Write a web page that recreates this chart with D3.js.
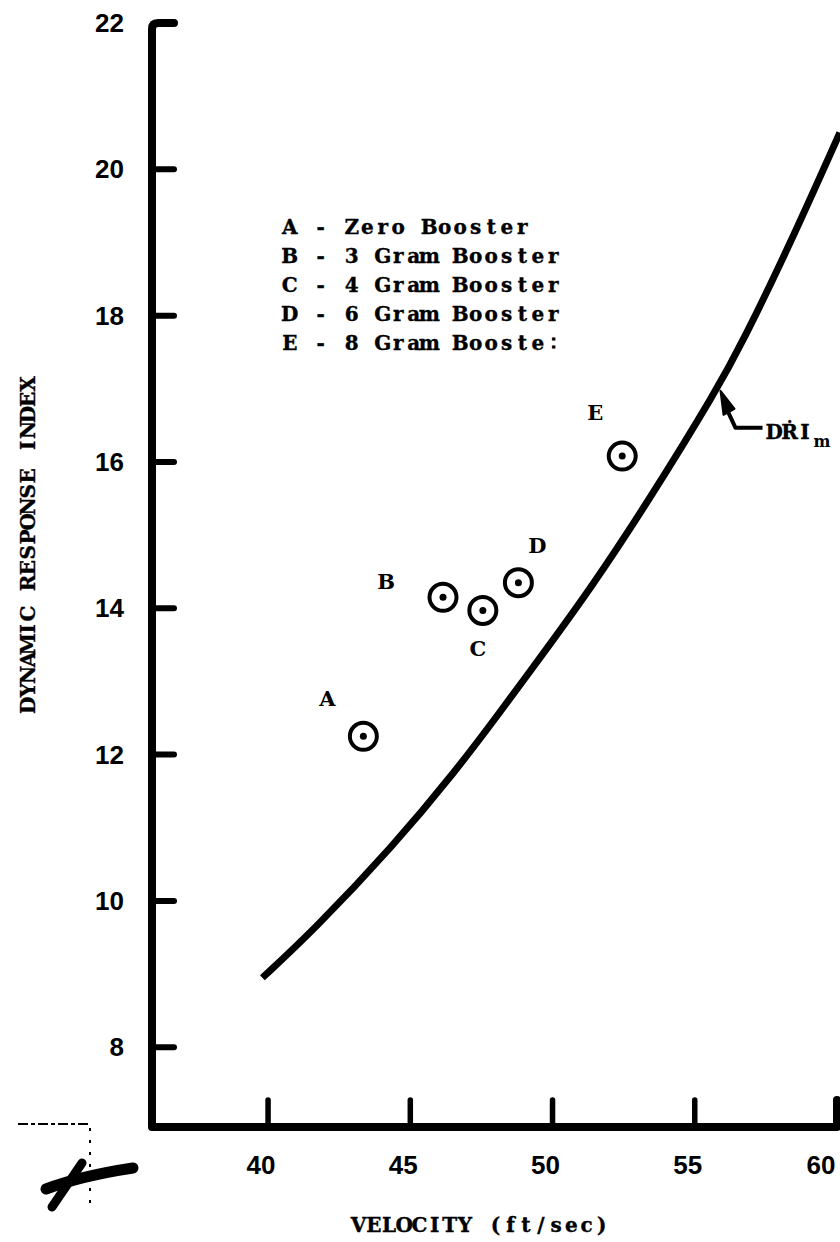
<!DOCTYPE html>
<html>
<head>
<meta charset="utf-8">
<script src="https://cdn.jsdelivr.net/npm/d3@7"></script>
<style>
  html, body { margin: 0; padding: 0; background: #fff; }
  svg { display: block; }
  .tw { font-family: "DejaVu Serif", "Liberation Serif", serif; font-weight: bold; }
  .tick { font-family: "Liberation Sans", Arial, sans-serif; font-weight: bold; }
</style>
</head>
<body>
<svg id="chart" width="840" height="1242"></svg>
<script>
// ---- data ----
const xTicks = [40, 45, 50, 55, 60];
const yTicks = [8, 10, 12, 14, 16, 18, 20, 22];
const pointLabels = ["A", "B", "C", "D", "E"];
const pointVelocity = [43.35, 46.15, 47.55, 48.8, 52.45];
const pointDRI = [12.25, 14.15, 13.97, 14.35, 16.08];
const legendItems = ["A - Zero Booster", "B - 3 Gram Booster", "C - 4 Gram Booster", "D - 6 Gram Booster", "E - 8 Gram Booste\u2236"];
const curveVelocity = [39.8, 41.6, 44.4, 46.6, 48.0, 49.8, 51.3, 53.3, 55.8, 56.7, 58.2, 60.1];
const curveDRI = [8.95, 9.6, 10.75, 11.78, 12.5, 13.45, 14.25, 15.42, 17.0, 17.66, 18.85, 20.5];
const xTitle = "VELOCITY (ft/sec)";
const yTitle = "DYNAMIC RESPONSE INDEX";
const driAt = 55.8;

// ---- scales ----
const svg = d3.select("#chart");
const x = d3.scaleLinear().domain([35.92, 60]).range([152, 837]);
const y = d3.scaleLinear().domain([6.91, 22]).range([1127, 23]);

const ink = "#000";

// typewriter-style text: each character centred in a fixed-pitch cell
function typewriter(sel, str, pitch, size) {
  const t = sel.append("text").attr("class", "tw").attr("font-size", size).attr("text-anchor", "middle")
    .attr("stroke", ink).attr("stroke-width", 0.35);
  t.selectAll("tspan").data(Array.from(str)).join("tspan")
    .attr("x", (c, i) => i * pitch + pitch / 2)
    .text(c => c);
  return t;
}

// axes frame
const x0 = x.range()[0], x1 = x.range()[1];
const yBot = y.range()[0];
const yTop = y(22);
svg.append("path")
  .attr("d", `M${x0 + 22},${yTop} L${x0 + 6},${yTop} Q${x0},${yTop} ${x0},${yTop + 6} L${x0},${yBot} L${x1},${yBot} L${x1},${yBot - 27}`)
  .attr("fill", "none").attr("stroke", ink).attr("stroke-width", 8)
  .attr("stroke-linejoin", "round").attr("stroke-linecap", "round");

// y ticks
svg.append("g").selectAll("line").data(yTicks.filter(d => d !== 22)).join("line")
  .attr("x1", x0).attr("x2", x0 + 22)
  .attr("y1", d => y(d)).attr("y2", d => y(d))
  .attr("stroke", ink).attr("stroke-width", 6).attr("stroke-linecap", "round");
svg.append("g").selectAll("text").data(yTicks).join("text")
  .attr("class", "tick")
  .attr("x", x0 - 28).attr("y", d => y(d) + 9)
  .attr("text-anchor", "end").attr("font-size", 26)
  .text(d => d);

// x ticks
svg.append("g").selectAll("line").data(xTicks.filter(d => d !== 60)).join("line")
  .attr("x1", d => x(d)).attr("x2", d => x(d))
  .attr("y1", yBot).attr("y2", yBot - 27)
  .attr("stroke", ink).attr("stroke-width", 5.5).attr("stroke-linecap", "round");
svg.append("g").selectAll("text").data(xTicks).join("text")
  .attr("class", "tick")
  .attr("x", d => x(d) - (d === 60 ? 16 : 7)).attr("y", yBot + 47)
  .attr("text-anchor", "middle").attr("font-size", 26)
  .text(d => d);

// axis titles
typewriter(svg.append("g").attr("transform", "translate(351,1232)"), xTitle, 15.2, 20);
typewriter(svg.append("g").attr("transform", "translate(35,713) rotate(-90)"), yTitle, 15.3, 20);

// legend
legendItems.forEach((d, i) => {
  typewriter(svg.append("g").attr("transform", `translate(282,${234 + i * 29})`), d, 15.5, 20);
});

// curve
const curveData = curveVelocity.map((v, i) => [v, curveDRI[i]]);
svg.append("path")
  .datum(curveData)
  .attr("d", d3.line().x(d => x(d[0])).y(d => y(d[1])).curve(d3.curveBasis))
  .attr("fill", "none").attr("stroke", ink).attr("stroke-width", 7)
  .attr("stroke-linecap", "butt");

// points
const pts = pointLabels.map((l, i) => ({ l, v: pointVelocity[i], d: pointDRI[i] }));
const gp = svg.append("g");
gp.selectAll("circle.ring").data(pts).join("circle")
  .attr("class", "ring")
  .attr("cx", d => x(d.v)).attr("cy", d => y(d.d)).attr("r", 13.5)
  .attr("fill", "none").attr("stroke", ink).attr("stroke-width", 4);
gp.selectAll("circle.dot").data(pts).join("circle")
  .attr("class", "dot")
  .attr("cx", d => x(d.v)).attr("cy", d => y(d.d)).attr("r", 3.5)
  .attr("fill", ink);
const labelOff = { A: [-36, -30], B: [-57, -8], C: [-5, 46], D: [19, -30], E: [-27, -36] };
gp.selectAll("text").data(pts).join("text")
  .attr("x", d => x(d.v) + labelOff[d.l][0]).attr("y", d => y(d.d) + labelOff[d.l][1])
  .attr("text-anchor", "middle")
  .attr("class", "tw").attr("font-size", 21)
  .text(d => d.l);

// DRI_m annotation
const interp = d3.scaleLinear().domain(curveVelocity).range(curveDRI);
const tx = x(driAt) + 3, ty = y(interp(driAt)) + 2;
const ann = svg.append("g");
ann.append("path")
  .attr("d", `M${tx + 8},${ty + 22} L${tx + 15},${ty + 37} L${tx + 42},${ty + 37}`)
  .attr("fill", "none").attr("stroke", ink).attr("stroke-width", 4).attr("stroke-linejoin", "round");
ann.append("path")
  .attr("d", `M${tx},${ty} L${tx + 14},${ty + 18} L${tx + 3},${ty + 24} Z`)
  .attr("fill", ink).attr("stroke", ink).attr("stroke-width", 2).attr("stroke-linejoin", "round");
const dg = ann.append("g").attr("transform", `translate(${tx + 46},${ty + 48})`);
typewriter(dg, "D\u1E58I", 15.4, 20);
dg.append("text").attr("class", "tw").attr("x", 47).attr("y", 8).attr("font-size", 16).text("m");

// scan marks at lower left
const scan = svg.append("g");
scan.append("path").attr("d", "M18,1124 L90,1124").attr("stroke", ink).attr("stroke-width", 2).attr("stroke-dasharray", "10 3 4 3");
scan.append("path").attr("d", "M90,1128 L90,1212").attr("stroke", ink).attr("stroke-width", 2).attr("stroke-dasharray", "3 9");
scan.append("path").attr("d", "M46,1189 C70,1180 100,1173 133,1168").attr("fill", "none").attr("stroke", ink).attr("stroke-width", 11).attr("stroke-linecap", "round");
scan.append("path").attr("d", "M52,1207 L82,1163").attr("fill", "none").attr("stroke", ink).attr("stroke-width", 9).attr("stroke-linecap", "round");
</script>
</body>
</html>
